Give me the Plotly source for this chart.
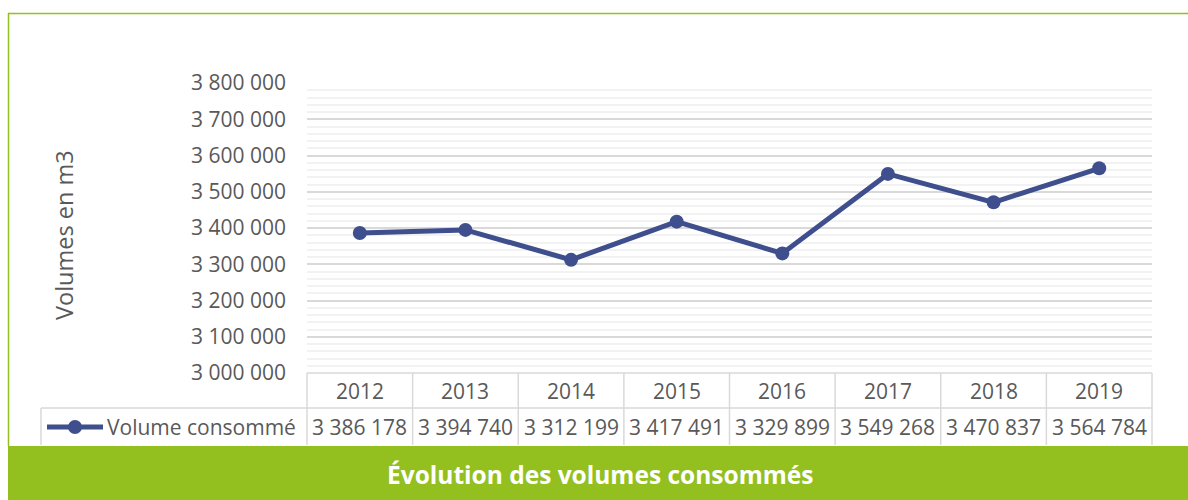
import plotly.graph_objects as go

years = ["2012", "2013", "2014", "2015", "2016", "2017", "2018", "2019"]
volumes = [3386178, 3394740, 3312199, 3417491, 3329899, 3549268, 3470837, 3564784]
series_name = "Volume consommé"
y_title = "Volumes en m3"
chart_title = "Évolution des volumes consommés"

W, H = 1188, 500
L, R, T, B = 307, 1152, 83, 373  # plot area in pixels
pw, ph = R - L, B - T

def px(x):  # x in screen pixels -> paper
    return (x - L) / pw

def py(y):  # y in screen pixels -> paper
    return (B - y) / ph

LINE = "#3F4E8C"
GREEN = "#93C01F"
GRID = "#D9D9D9"
TXT = "#595959"
FONT = "Open Sans"

def fmt(v):
    return f"{v:,}".replace(",", " ")

fig = go.Figure()
fig.add_trace(go.Scatter(
    x=years, y=volumes, mode="lines+markers", name=series_name,
    line=dict(color=LINE, width=5), marker=dict(color=LINE, size=14),
    showlegend=False, hoverinfo="x+y",
))

shapes = []
annotations = []

n = len(years)
row1_top, row1_bot, row2_bot = 373, 408, 445
legend_left = 41
shapes.append(dict(type="line", xref="paper", yref="paper", x0=0, x1=1, y0=py(row1_top), y1=py(row1_top), line=dict(color=GRID, width=1.5)))
shapes.append(dict(type="line", xref="paper", yref="paper", x0=px(legend_left), x1=1, y0=py(row1_bot), y1=py(row1_bot), line=dict(color=GRID, width=1.5)))
for i in range(n + 1):
    xp = i / n
    shapes.append(dict(type="line", xref="paper", yref="paper", x0=xp, x1=xp, y0=py(row1_top), y1=py(row2_bot), line=dict(color=GRID, width=1.5)))
shapes.append(dict(type="line", xref="paper", yref="paper", x0=px(legend_left), x1=px(legend_left), y0=py(row1_bot), y1=py(row2_bot), line=dict(color=GRID, width=1.5)))

for i, (yr, v) in enumerate(zip(years, volumes)):
    xc = (i + 0.5) / n
    annotations.append(dict(xref="paper", yref="paper", x=xc, y=py(390.5), text=yr, showarrow=False,
                            font=dict(family=FONT, size=21, color=TXT), xanchor="center", yanchor="middle"))
    annotations.append(dict(xref="paper", yref="paper", x=xc, y=py(427), text=fmt(v), showarrow=False,
                            font=dict(family=FONT, size=21, color=TXT), xanchor="center", yanchor="middle"))

# legend key
shapes.append(dict(type="line", xref="paper", yref="paper", x0=px(47), x1=px(103), y0=py(427), y1=py(427),
                   line=dict(color=LINE, width=5)))
shapes.append(dict(type="circle", xref="paper", yref="paper", xsizemode="pixel", ysizemode="pixel",
                   xanchor=px(75), yanchor=py(427), x0=-7, x1=7, y0=-7, y1=7,
                   fillcolor=LINE, line=dict(color=LINE, width=0)))
annotations.append(dict(xref="paper", yref="paper", x=px(105), y=py(427), text=series_name, showarrow=False,
                        font=dict(family=FONT, size=21, color=TXT), xanchor="left", yanchor="middle"))

# y title
annotations.append(dict(xref="paper", yref="paper", x=px(64), y=py(235), text=y_title, showarrow=False, textangle=-90,
                        font=dict(family=FONT, size=23.5, color=TXT), xanchor="center", yanchor="middle"))

# green frame
shapes.append(dict(type="line", xref="paper", yref="paper", x0=px(8), x1=px(W + 20), y0=py(13.5), y1=py(13.5), line=dict(color=GREEN, width=1.5)))
shapes.append(dict(type="line", xref="paper", yref="paper", x0=px(8.5), x1=px(8.5), y0=py(13), y1=py(446), line=dict(color=GREEN, width=1.5)))
shapes.append(dict(type="rect", xref="paper", yref="paper", x0=px(8), x1=px(W + 20), y0=py(446), y1=py(H + 20),
                   fillcolor=GREEN, line=dict(width=0), layer="below"))
annotations.append(dict(xref="paper", yref="paper", x=px(600), y=py(474), text=f"<b>{chart_title}</b>", showarrow=False,
                        font=dict(family=FONT, size=24.5, color="white"), xanchor="center", yanchor="middle"))

fig.update_layout(
    width=W, height=H,
    margin=dict(l=L, r=W - R, t=T, b=H - B, pad=0),
    paper_bgcolor="white", plot_bgcolor="white",
    separators=", ",
    shapes=shapes, annotations=annotations,
    xaxis=dict(type="category", range=[-0.5, n - 0.5], showgrid=False, showticklabels=False, zeroline=False, showline=False, fixedrange=True),
    yaxis=dict(range=[3000000, 3800000], dtick=100000, tickformat=",d", showgrid=True, gridcolor=GRID, gridwidth=1.5,
               minor=dict(dtick=20000, showgrid=True, gridcolor="#F2F2F2", gridwidth=1.5),
               zeroline=False, showline=False, ticks="", ticklabelstandoff=20,
               tickfont=dict(family=FONT, size=21, color=TXT), fixedrange=True),
)

fig.write_html("out.html", config={"displayModeBar": False},
               post_script="document.body.style.margin='0';document.body.style.overflow='hidden';")
